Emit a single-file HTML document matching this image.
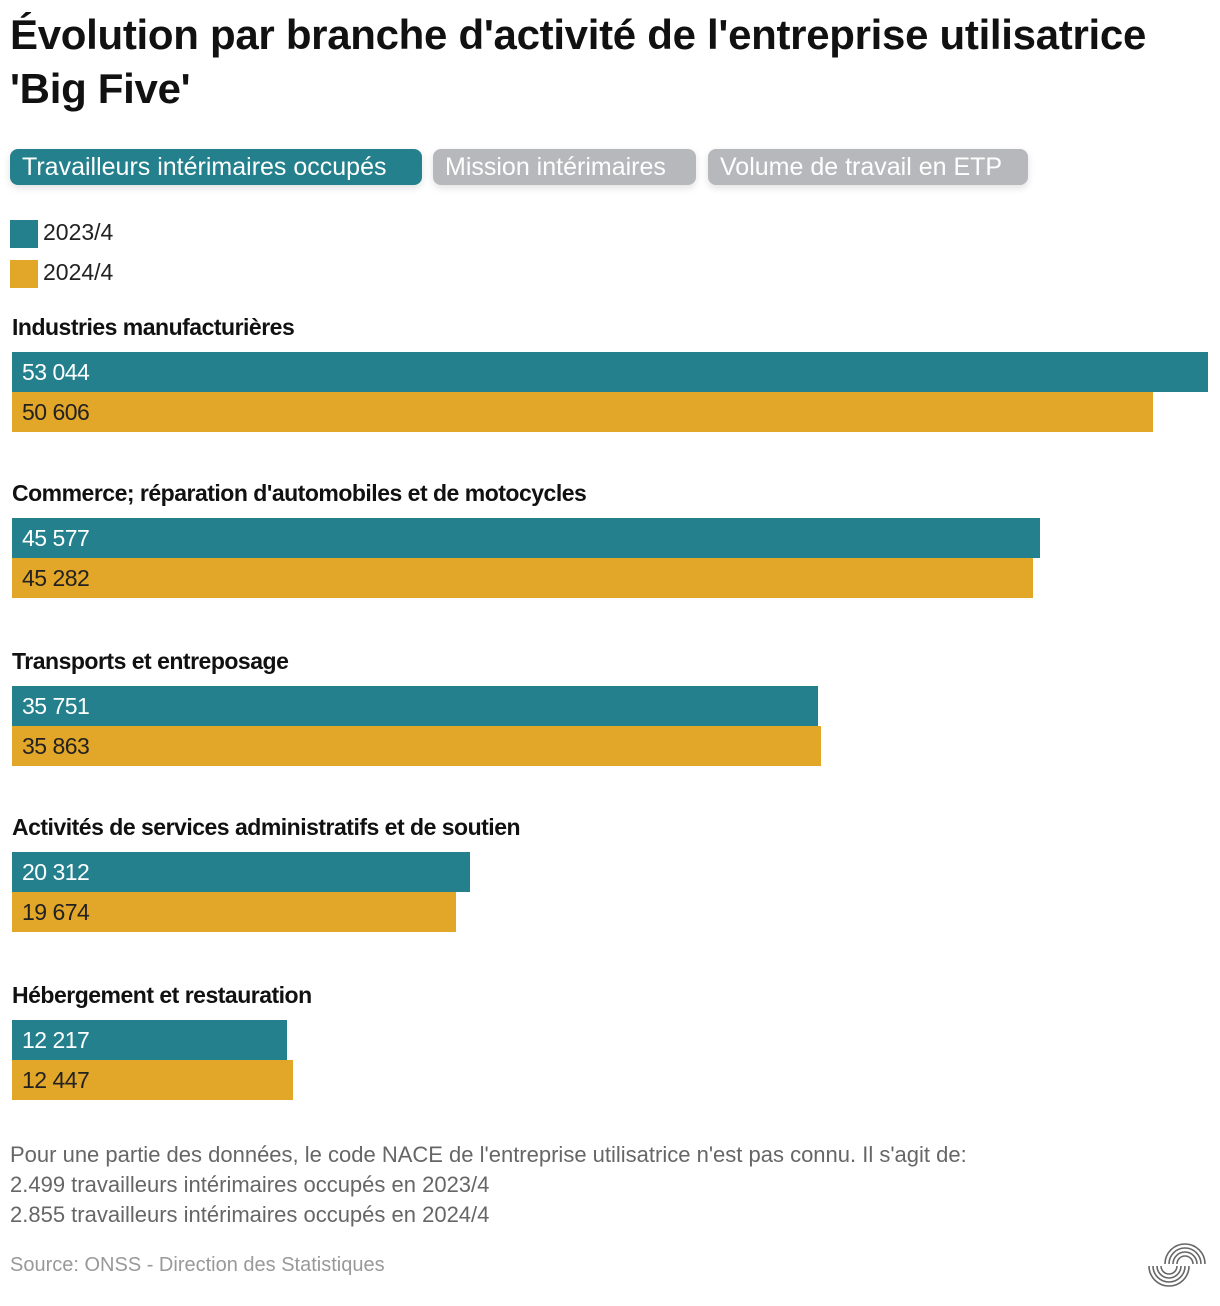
<!DOCTYPE html>
<html><head><meta charset="utf-8"><style>
body{margin:0;width:1220px;height:1306px;background:#fff;font-family:"Liberation Sans",sans-serif;position:relative;overflow:hidden;color:#222}
.abs{position:absolute;white-space:nowrap}
.btn{position:absolute;top:149px;height:36px;border-radius:8px;color:#fff;font-size:25px;line-height:36px;padding:0 12px;box-sizing:border-box;box-shadow:0 3px 8px rgba(0,0,0,.12)}
</style></head><body>
<div class="abs" style="left:10px;top:8px;font-size:42px;font-weight:bold;line-height:54px;letter-spacing:-0.3px;color:#111">Évolution par branche d'activité de l'entreprise utilisatrice<br>'Big Five'</div>
<div class="btn" style="left:10px;width:412px;background:#23808c">Travailleurs intérimaires occupés</div>
<div class="btn" style="left:433px;width:263px;background:#b7b8bb">Mission intérimaires</div>
<div class="btn" style="left:708px;width:320px;background:#b7b8bb">Volume de travail en ETP</div>
<div class="abs" style="left:10px;top:218px;font-size:23px;line-height:28px"><span style="display:inline-block;width:28px;height:28px;background:#23808c;vertical-align:top;margin-right:5px;margin-top:2px"></span>2023/4</div>
<div class="abs" style="left:10px;top:258px;font-size:23px;line-height:28px"><span style="display:inline-block;width:28px;height:28px;background:#e2a628;vertical-align:top;margin-right:5px;margin-top:2px"></span>2024/4</div>
<div id="chart"></div>
<div class="abs" style="left:10px;top:1140px;font-size:22px;line-height:30px;color:#666">Pour une partie des données, le code NACE de l'entreprise utilisatrice n'est pas connu. Il s'agit de:<br>2.499 travailleurs intérimaires occupés en 2023/4<br>2.855 travailleurs intérimaires occupés en 2024/4</div>
<div class="abs" style="left:10px;top:1254px;font-size:20px;color:#999">Source: ONSS - Direction des Statistiques</div>
<svg class="abs" style="left:1145px;top:1240px" width="66" height="52" viewBox="0 0 66 52" fill="none" stroke="#666" stroke-width="1.6">
<path d="M20 24a20 20 0 0 1 40 0M24 24a16 16 0 0 1 32 0M28 24a12 12 0 0 1 24 0M32 24a8 8 0 0 1 16 0"/>
<path d="M4 26a20 20 0 0 0 40 0M8 26a16 16 0 0 0 32 0M12 26a12 12 0 0 0 24 0M16 26a8 8 0 0 0 16 0"/>
</svg>
<script>
const categories=["Industries manufacturières","Commerce; réparation d'automobiles et de motocycles","Transports et entreposage","Activités de services administratifs et de soutien","Hébergement et restauration"];
const series2023=[53044,45577,35751,20312,12217];
const series2024=[50606,45282,35863,19674,12447];
const maxV=53044,x0=12,plotW=1196;
const xs=v=>v/maxV*plotW;
const fmt=v=>String(v).replace(/\B(?=(\d{3})+(?!\d))/g,' ');
const c=document.getElementById('chart');
const tops=[352,518,686,852,1020];
categories.forEach((cat,i)=>{
  const t=tops[i];
  const l=document.createElement('div');l.className='abs';
  
  
  l.style.cssText=`left:12px;top:${t-38}px;font-size:23px;font-weight:bold;letter-spacing:-0.5px;color:#111`;
  l.textContent=cat;c.appendChild(l);
  [[series2023[i],'#23808c','#fff'],[series2024[i],'#e2a628','#222']].forEach((s,j)=>{
    const b=document.createElement('div');b.className='abs';
    
    
    b.style.cssText=`left:${x0}px;top:${t+j*40}px;width:${xs(s[0])}px;height:40px;background:${s[1]};color:${s[2]};font-size:23px;line-height:40px;padding-left:10px;box-sizing:border-box;letter-spacing:-0.5px`;
    b.textContent=fmt(s[0]);c.appendChild(b);
  });
});
</script>
</body></html>
